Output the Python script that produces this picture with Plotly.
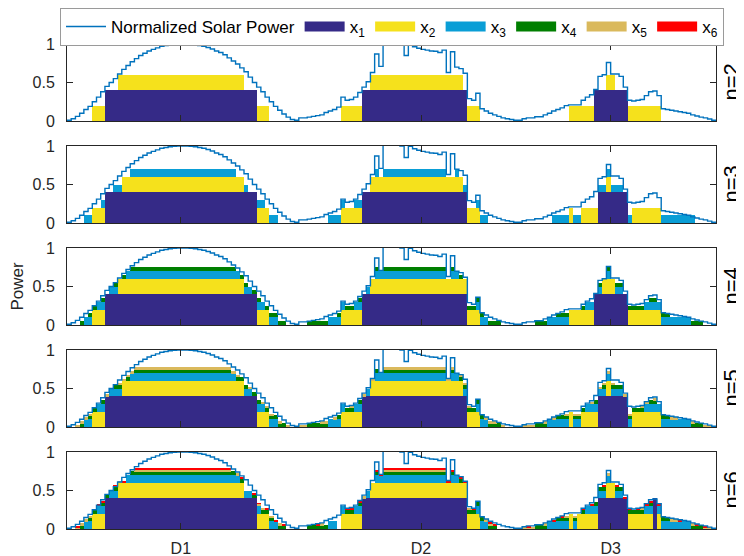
import numpy as np
import plotly.graph_objects as go
from plotly.subplots import make_subplots

# ---------------- data ----------------
SOLAR = [
    # day 1 (steps 0-54)
    0.01, 0.03, 0.06, 0.10, 0.15, 0.19, 0.25, 0.31, 0.38, 0.45,
    0.50, 0.55, 0.61, 0.67, 0.72, 0.77, 0.81, 0.85, 0.88, 0.91,
    0.93, 0.95, 0.97, 0.98, 0.99, 0.995, 1.0, 1.0, 1.0, 0.995,
    0.99, 0.98, 0.97, 0.955, 0.935, 0.91, 0.89, 0.86, 0.82, 0.78,
    0.74, 0.69, 0.64, 0.57, 0.50, 0.44, 0.38, 0.31, 0.25, 0.19,
    0.14, 0.09, 0.05, 0.02, 0.01,
    # day 2 (steps 55-107)
    0.04, 0.04, 0.05, 0.06, 0.07, 0.08, 0.11, 0.13, 0.15, 0.18,
    0.31, 0.27, 0.28, 0.31, 0.37, 0.44, 0.51, 0.63, 0.87, 0.71,
    1.15, 1.2, 1.2, 1.15, 1.0, 0.85, 0.995, 0.965, 0.945, 0.93,
    0.92, 0.91, 0.905, 0.89, 0.92, 0.63, 0.90, 0.70, 0.68, 0.62,
    0.29, 0.27, 0.36, 0.16, 0.13, 0.10, 0.08, 0.06, 0.04, 0.03,
    0.02, 0.01, 0.01,
    # day 3 (steps 108-153)
    0.03, 0.04, 0.04, 0.055, 0.055, 0.08, 0.10, 0.13, 0.15, 0.17,
    0.20, 0.21, 0.21, 0.21, 0.27, 0.31, 0.34, 0.41, 0.58, 0.60,
    0.76, 0.61, 0.61, 0.58, 0.44, 0.27, 0.26, 0.27, 0.28, 0.33,
    0.38, 0.39, 0.33, 0.16, 0.15, 0.14, 0.13, 0.12, 0.11, 0.10,
    0.08, 0.065, 0.05, 0.04, 0.025, 0.01,
]

LEVELS = [0.4, 0.2, 0.1, 0.05, 0.025, 0.0125]
SERIES_NAMES = ["x<sub>1</sub>", "x<sub>2</sub>", "x<sub>3</sub>",
                "x<sub>4</sub>", "x<sub>5</sub>", "x<sub>6</sub>"]
COLORS = ["#352a87", "#f5e11c", "#0a9ed6", "#007f00", "#dab95c", "#ff0000"]
LINE_NAME = "Normalized Solar Power"
LINE_COLOR = "#0072bd"
PANEL_LABELS = ["n=2", "n=3", "n=4", "n=5", "n=6"]
XTICK_POS = [27, 84, 129]
XTICK_TEXT = ["D1", "D2", "D3"]
YTICK_VALS = [0, 0.5, 1]
YTICK_TEXT = ["0", "0.5", "1"]

# on-intervals (inclusive step indices) of every series, per panel
ON_N2 = [
    [(9, 44), (70, 94), (125, 132)],
    [(6, 8), (12, 41), (45, 47), (65, 69), (72, 93), (95, 97), (119, 124),
     (128, 129), (133, 140)],
]
ON_N3 = [
    [(9, 44), (70, 94), (126, 132)],
    [(6, 8), (13, 41), (45, 47), (65, 69), (72, 93), (95, 97), (119, 119),
     (122, 125), (128, 128), (134, 140)],
    [(4, 5), (8, 8), (11, 12), (15, 39), (42, 42), (45, 46), (48, 49),
     (62, 65), (68, 69), (73, 73), (75, 89), (92, 92), (94, 94), (97, 99),
     (115, 118), (120, 121), (126, 131), (133, 133), (141, 148)],
]
ON_N4 = [
    [(9, 44), (70, 94), (125, 132)],
    [(6, 8), (12, 41), (45, 47), (65, 69), (72, 94), (95, 97), (119, 124),
     (127, 129), (133, 140)],
    [(4, 5), (7, 8), (10, 11), (14, 40), (42, 43), (45, 46), (48, 49),
     (62, 65), (68, 69), (71, 71), (73, 89), (91, 92), (97, 99),
     (114, 118), (123, 124), (126, 126), (128, 128), (130, 131), (137, 147)],
    [(3, 3), (5, 6), (8, 8), (11, 11), (13, 13), (15, 39), (41, 42), (44, 45),
     (47, 51), (57, 61), (64, 64), (66, 67), (69, 69), (73, 73), (75, 89),
     (91, 91), (93, 93), (95, 98), (100, 102), (111, 113), (116, 118),
     (122, 122), (126, 126), (128, 128), (130, 131), (133, 136), (138, 139),
     (141, 142), (148, 150)],
]
ON_N5 = [
    [(9, 44), (70, 94), (126, 132)],
    [(6, 8), (13, 41), (45, 47), (65, 69), (72, 93), (95, 97), (119, 119),
     (122, 125), (128, 128), (134, 140)],
    [(4, 5), (7, 8), (10, 12), (15, 39), (42, 43), (45, 46), (48, 49),
     (62, 65), (68, 69), (71, 71), (73, 89), (91, 92), (94, 94), (97, 99),
     (114, 118), (120, 121), (123, 131), (133, 133), (137, 147)],
    [(3, 3), (5, 6), (8, 8), (11, 12), (14, 14), (16, 38), (40, 42), (44, 45),
     (47, 51), (57, 61), (64, 64), (66, 67), (69, 69), (73, 73), (75, 89),
     (91, 91), (93, 98), (100, 102), (111, 113), (116, 118), (120, 122),
     (125, 125), (127, 127), (129, 131), (133, 136), (138, 139), (141, 142),
     (148, 150)],
    [(2, 5), (9, 9), (12, 40), (43, 43), (46, 48), (50, 50), (52, 52),
     (55, 56), (60, 61), (63, 63), (67, 67), (70, 70), (72, 72), (75, 91),
     (93, 95), (99, 101), (103, 103), (108, 110), (113, 113), (115, 115),
     (118, 118), (120, 121), (124, 124), (126, 129), (132, 133), (136, 137),
     (139, 139), (143, 144), (148, 148), (151, 152)],
]
ON_N6 = [
    [(9, 44), (70, 94), (126, 132), (139, 139)],
    [(6, 8), (12, 41), (45, 47), (65, 69), (72, 94), (95, 97), (119, 119),
     (121, 125), (128, 129), (133, 138), (140, 140)],
    [(4, 5), (7, 8), (10, 11), (14, 40), (42, 43), (45, 45), (48, 49),
     (62, 63), (65, 65), (68, 69), (71, 71), (73, 89), (91, 92), (97, 99),
     (114, 118), (120, 120), (123, 128), (130, 131), (137, 138), (140, 147)],
    [(3, 3), (5, 6), (8, 9), (11, 11), (15, 39), (41, 41), (44, 44), (46, 48),
     (50, 51), (57, 61), (66, 67), (69, 69), (73, 73), (75, 89), (91, 91),
     (93, 93), (95, 98), (100, 101), (111, 113), (116, 118), (120, 120),
     (122, 122), (125, 127), (130, 131), (133, 136), (138, 138), (141, 142),
     (148, 150)],
    [(2, 5), (12, 12), (16, 38), (40, 40), (45, 46), (48, 48), (50, 50),
     (60, 60), (70, 70), (75, 89), (95, 95), (99, 100), (108, 110),
     (113, 113), (118, 118), (120, 120), (128, 128), (136, 136), (143, 144),
     (148, 148), (151, 152)],
    [(2, 2), (7, 8), (11, 11), (13, 13), (16, 38), (41, 41), (44, 45),
     (47, 47), (49, 49), (51, 51), (59, 59), (66, 67), (69, 69), (73, 89),
     (90, 91), (93, 94), (96, 96), (100, 101), (109, 109), (115, 115),
     (117, 117), (122, 122), (124, 124), (127, 127), (130, 130), (132, 133),
     (135, 135), (137, 138), (140, 140), (145, 145), (149, 149), (151, 151)],
]
PANELS = [ON_N2, ON_N3, ON_N4, ON_N5, ON_N6]


def expand(ranges, level, n):
    v = np.zeros(n)
    for a, b in ranges:
        v[a:b + 1] = level
    return v


# ---------------- figure ----------------
# the page body has an 8px margin, so the figure is sized/placed to account
# for it (figure origin sits at page pixel (8, 8)).
FIG_W, FIG_H = 736, 548
M_L, M_R, M_T, M_B = 59, 28, 36, 27
PLOT_W = FIG_W - M_L - M_R
PLOT_H = FIG_H - M_T - M_B
GAP = 25

N = len(SOLAR)
x_bar = np.arange(N) + 0.5
x_line = np.arange(N + 1)
y_line = SOLAR + [SOLAR[-1]]

fig = make_subplots(rows=5, cols=1, shared_xaxes=True,
                    vertical_spacing=GAP / PLOT_H)

for r, on in enumerate(PANELS, start=1):
    for i, ranges in enumerate(on):
        fig.add_trace(go.Bar(
            x=x_bar, y=expand(ranges, LEVELS[i], N), width=1,
            marker=dict(color=COLORS[i], line=dict(width=0)),
            name=SERIES_NAMES[i], showlegend=False, hoverinfo="skip",
        ), row=r, col=1)
    fig.add_trace(go.Scatter(
        x=x_line, y=y_line, mode="lines", name=LINE_NAME,
        line=dict(color=LINE_COLOR, width=1.4, shape="hv"),
        showlegend=(r == 1), legendrank=1,
    ), row=r, col=1)

# legend entries for the bar series (wide colour swatches)
for i in range(6):
    fig.add_trace(go.Scatter(
        x=[None], y=[None], mode="lines", name=SERIES_NAMES[i],
        line=dict(color=COLORS[i], width=14), legendrank=2 + i,
        showlegend=True,
    ), row=1, col=1)

AX = "#262626"
fig.update_xaxes(range=[0, N], tickvals=XTICK_POS, ticktext=XTICK_TEXT,
                 ticks="inside", ticklen=6, tickcolor=AX, showline=True,
                 linecolor=AX, linewidth=1, mirror="ticks", showgrid=False,
                 zeroline=False, ticklabelstandoff=5)
fig.update_yaxes(range=[0, 1], tickvals=YTICK_VALS, ticktext=YTICK_TEXT,
                 ticks="inside", ticklen=6, tickcolor=AX, showline=True,
                 linecolor=AX, linewidth=1, mirror="ticks", showgrid=False,
                 zeroline=False, ticklabelstandoff=8)
fig.update_yaxes(title=dict(text="Power", font=dict(size=17), standoff=6),
                 row=3, col=1)

for r, lab in enumerate(PANEL_LABELS, start=1):
    yname = "yaxis" if r == 1 else f"yaxis{r}"
    dom = fig.layout[yname].domain
    fig.add_annotation(text=lab, xref="paper", yref="paper",
                       x=(723 - M_L) / PLOT_W, y=(dom[0] + dom[1]) / 2,
                       xanchor="center", yanchor="middle",
                       textangle=-90, showarrow=False,
                       font=dict(size=22, color="#000000"))

fig.update_layout(
    width=FIG_W, height=FIG_H,
    margin=dict(l=M_L, r=M_R, t=M_T, b=M_B, autoexpand=False),
    barmode="stack", bargap=0,
    plot_bgcolor="white", paper_bgcolor="white",
    font=dict(family="Liberation Sans, Arial, sans-serif", size=16,
              color=AX),
    legend=dict(orientation="h", x=(52 - M_L) / PLOT_W, xanchor="left",
                y=1 + M_T / PLOT_H, yanchor="top",
                bordercolor="#9a9a9a", borderwidth=1, itemwidth=40,
                font=dict(size=17, color="#000000"), traceorder="normal",
                bgcolor="white"),
    showlegend=True,
)

fig.write_html("out.html")
